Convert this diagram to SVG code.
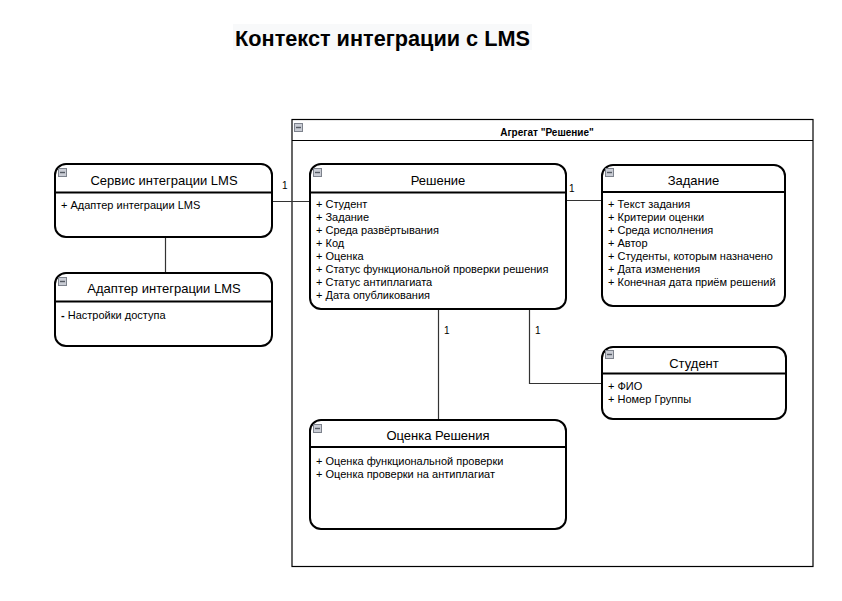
<svg xmlns="http://www.w3.org/2000/svg" width="842" height="601" viewBox="0 0 842 601">
<defs>
<style>
text{font-family:"Liberation Sans",Arial,sans-serif;fill:#000}
.box{fill:#fff;stroke:#000;stroke-width:2}
.div{stroke:#000;stroke-width:2}
.ttl{font-size:13px;text-anchor:middle}
.att{font-size:11px}
.lbl{font-size:10px}
.con{stroke:#333;stroke-width:1.2;fill:none}
.ico{fill:#c9ccd4;stroke:#7d828c;stroke-width:1}
.icm{stroke:#555a63;stroke-width:1.4}
</style>
<g id="icon"><rect class="ico" x="0.5" y="0.5" width="8" height="8"/><line class="icm" x1="2" y1="4.5" x2="7" y2="4.5"/></g>
</defs>
<rect width="842" height="601" fill="#fff"/>
<g id="title">
<rect x="233" y="24" width="299" height="26" fill="#f8f9fa"/>
<text x="382.5" y="46" font-size="21.7" font-weight="bold" text-anchor="middle">Контекст интеграции с LMS</text>
</g>
<g id="aggregate">
<rect x="292" y="119.5" width="521" height="447" fill="none" stroke="#000" stroke-width="1.2"/>
<line x1="292" y1="140.5" x2="813" y2="140.5" stroke="#000" stroke-width="1.2"/>
<use href="#icon" x="294" y="123"/>
<text x="547" y="136" font-size="10" font-weight="bold" text-anchor="middle">Агрегат "Решение"</text>
</g>
<g id="connectors">
<line class="con" x1="272" y1="201.5" x2="310" y2="201.5"/>
<line class="con" x1="566" y1="200.5" x2="602" y2="200.5"/>
<line class="con" x1="165.5" y1="237" x2="165.5" y2="273"/>
<line class="con" x1="438.5" y1="309" x2="438.5" y2="420"/>
<polyline class="con" points="529.5,309 529.5,383.5 602,383.5"/>
<text class="lbl" x="282" y="189">1</text>
<text class="lbl" x="569" y="192">1</text>
<text class="lbl" x="444" y="334">1</text>
<text class="lbl" x="535" y="334">1</text>
</g>
<g id="service">
<rect class="box" x="55" y="164" width="217" height="73" rx="11"/>
<line class="div" x1="55" y1="192.5" x2="272" y2="192.5"/>
<use href="#icon" x="58" y="168"/>
<text class="ttl" x="164" y="184.5">Сервис интеграции LMS</text>
<text class="att" x="61" y="209">+ Адаптер интеграции LMS</text>
</g>
<g id="adapter">
<rect class="box" x="55" y="273" width="217" height="73" rx="11"/>
<line class="div" x1="55" y1="301.5" x2="272" y2="301.5"/>
<use href="#icon" x="58" y="277"/>
<text class="ttl" x="164" y="293">Адаптер интеграции LMS</text>
<text class="att" x="61" y="319"><tspan font-weight="bold">-</tspan> Настройки доступа</text>
</g>
<g id="solution">
<rect class="box" x="310" y="164" width="256" height="145" rx="11"/>
<line class="div" x1="310" y1="192.5" x2="566" y2="192.5"/>
<use href="#icon" x="313" y="168"/>
<text class="ttl" x="438" y="184.5">Решение</text>
<text class="att" x="316" y="208">+ Студент</text>
<text class="att" x="316" y="221">+ Задание</text>
<text class="att" x="316" y="234">+ Среда развёртывания</text>
<text class="att" x="316" y="247">+ Код</text>
<text class="att" x="316" y="260">+ Оценка</text>
<text class="att" x="316" y="273">+ Статус функциональной проверки решения</text>
<text class="att" x="316" y="286">+ Статус антиплагиата</text>
<text class="att" x="316" y="299">+ Дата опубликования</text>
</g>
<g id="task">
<rect class="box" x="602" y="165" width="183" height="141" rx="11"/>
<line class="div" x1="602" y1="192" x2="785" y2="192"/>
<use href="#icon" x="605" y="168"/>
<text class="ttl" x="693.5" y="185">Задание</text>
<text class="att" x="608" y="208">+ Текст задания</text>
<text class="att" x="608" y="221">+ Критерии оценки</text>
<text class="att" x="608" y="234">+ Среда исполнения</text>
<text class="att" x="608" y="247">+ Автор</text>
<text class="att" x="608" y="260">+ Студенты, которым назначено</text>
<text class="att" x="608" y="273">+ Дата изменения</text>
<text class="att" x="608" y="286">+ Конечная дата приём решений</text>
</g>
<g id="student">
<rect class="box" x="602" y="347" width="184" height="72" rx="11"/>
<line class="div" x1="602" y1="373.5" x2="786" y2="373.5"/>
<use href="#icon" x="605" y="350"/>
<text class="ttl" x="694" y="367.5">Студент</text>
<text class="att" x="608" y="390">+ ФИО</text>
<text class="att" x="608" y="403">+ Номер Группы</text>
</g>
<g id="grade">
<rect class="box" x="310" y="420" width="256" height="109" rx="11"/>
<line class="div" x1="310" y1="447" x2="566" y2="447"/>
<use href="#icon" x="313" y="424"/>
<text class="ttl" x="438" y="439.5">Оценка Решения</text>
<text class="att" x="316" y="465">+ Оценка функциональной проверки</text>
<text class="att" x="316" y="478">+ Оценка проверки на антиплагиат</text>
</g>
</svg>
